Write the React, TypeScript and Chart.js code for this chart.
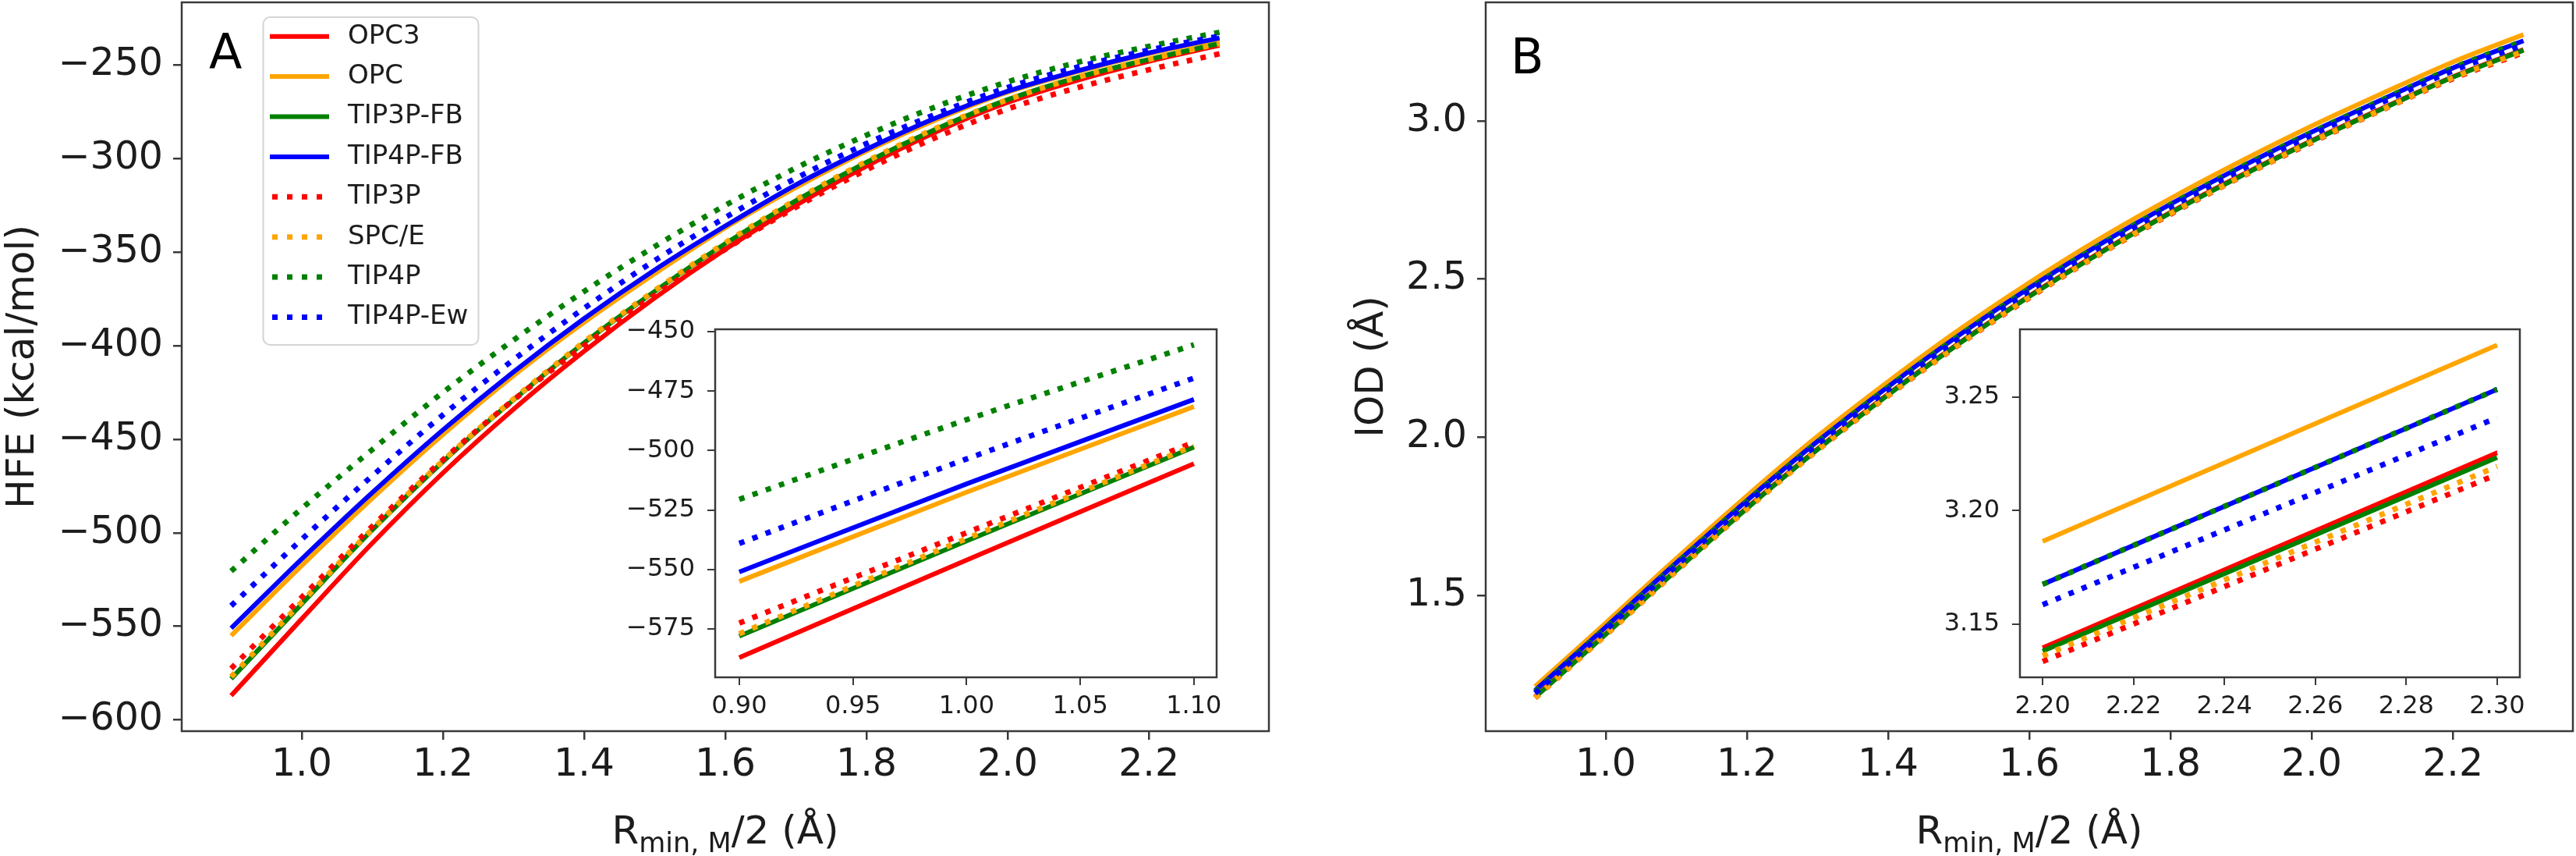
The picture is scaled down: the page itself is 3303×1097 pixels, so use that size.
import React, { useEffect, useRef } from "react";
import { Chart, registerables } from "chart.js";

Chart.register(...registerables);

// ---------------- data ----------------
const R_HALF = [0.9, 1.0, 1.1, 1.2, 1.3, 1.4, 1.5, 1.6, 1.7, 1.8, 1.9, 2.0, 2.1, 2.2, 2.3];

const MODEL_NAMES = ["OPC3", "OPC", "TIP3P-FB", "TIP4P-FB", "TIP3P", "SPC/E", "TIP4P", "TIP4P-Ew"];
const MODEL_COLORS = ["#ff0000", "#ffa500", "#008000", "#0000ff", "#ff0000", "#ffa500", "#008000", "#0000ff"];
const MODEL_DOTTED = [false, false, false, false, true, true, true, true];

// Hydration free energy (kcal/mol)
const HFE_OPC3 = [-587, -546, -505.5, -468, -434, -403, -374.5, -348.5, -325, -304, -285.5, -270, -258, -248, -239.5];
const HFE_OPC = [-555, -517.5, -481.5, -447.5, -416, -387.5, -361.5, -337, -315.5, -296, -279, -264.5, -253.5, -244, -236];
const HFE_TIP3PFB = [-578, -538, -498.5, -462, -429, -398.5, -371, -345.5, -322.5, -302, -284, -268.5, -256.5, -247, -238.5];
const HFE_TIP4PFB = [-551, -514, -478.5, -445, -414, -385.5, -359.5, -336, -314, -295, -278, -264, -253, -243.5, -235.5];
const HFE_TIP3P = [-572.5, -534.5, -496.5, -461, -429, -400, -373, -348.5, -326, -306, -288.5, -273.5, -262, -252.5, -244];
const HFE_SPCE = [-577, -537, -498, -461.5, -428.5, -398, -370.5, -345, -322, -301.5, -283.5, -268.5, -256.5, -247, -238.5];
const HFE_TIP4P = [-520.5, -487, -455.5, -425, -397, -371, -347, -325, -305, -287.5, -272, -259, -248.5, -240, -232.5];
const HFE_TIP4PEW = [-539, -503.5, -469.5, -437, -407.5, -380, -354.5, -331.5, -310.5, -292, -276, -262, -251, -242, -234.5];

// Ion-oxygen distance (Å)
const IOD_OPC3 = [1.18, 1.379, 1.581, 1.777, 1.963, 2.136, 2.297, 2.447, 2.584, 2.711, 2.828, 2.938, 3.04, 3.1395, 3.2255];
const IOD_OPC = [1.212, 1.413, 1.617, 1.815, 2.003, 2.176, 2.339, 2.489, 2.628, 2.755, 2.873, 2.984, 3.087, 3.1865, 3.273];
const IOD_TIP3PFB = [1.178, 1.377, 1.579, 1.775, 1.961, 2.134, 2.295, 2.445, 2.582, 2.709, 2.826, 2.936, 3.038, 3.138, 3.2235];
const IOD_TIP4PFB = [1.2, 1.4, 1.603, 1.8, 1.987, 2.16, 2.322, 2.472, 2.61, 2.737, 2.855, 2.965, 3.068, 3.1675, 3.2535];
const IOD_TIP3P = [1.176, 1.375, 1.577, 1.773, 1.959, 2.131, 2.292, 2.441, 2.579, 2.705, 2.823, 2.932, 3.035, 3.1335, 3.216];
const IOD_SPCE = [1.176, 1.375, 1.577, 1.773, 1.959, 2.132, 2.293, 2.443, 2.58, 2.707, 2.824, 2.934, 3.036, 3.136, 3.2195];
const IOD_TIP4P = [1.196, 1.396, 1.6, 1.797, 1.984, 2.158, 2.32, 2.47, 2.608, 2.736, 2.854, 2.964, 3.067, 3.1675, 3.2535];
const IOD_TIP4PEW = [1.191, 1.391, 1.594, 1.791, 1.978, 2.151, 2.313, 2.463, 2.601, 2.728, 2.846, 2.956, 3.059, 3.1585, 3.241];

const HFE_VALUES = [HFE_OPC3, HFE_OPC, HFE_TIP3PFB, HFE_TIP4PFB, HFE_TIP3P, HFE_SPCE, HFE_TIP4P, HFE_TIP4PEW];
const IOD_VALUES = [IOD_OPC3, IOD_OPC, IOD_TIP3PFB, IOD_TIP4PFB, IOD_TIP3P, IOD_SPCE, IOD_TIP4P, IOD_TIP4PEW];

// ticks
const HFE_X_TICKS = [1.0, 1.2, 1.4, 1.6, 1.8, 2.0, 2.2];
const HFE_Y_TICKS = [-600, -550, -500, -450, -400, -350, -300, -250];
const HFE_INSET_X_TICKS = [0.9, 0.95, 1.0, 1.05, 1.1];
const HFE_INSET_Y_TICKS = [-575, -550, -525, -500, -475, -450];
const IOD_X_TICKS = [1.0, 1.2, 1.4, 1.6, 1.8, 2.0, 2.2];
const IOD_Y_TICKS = [1.5, 2.0, 2.5, 3.0];
const IOD_INSET_X_TICKS = [2.2, 2.22, 2.24, 2.26, 2.28, 2.3];
const IOD_INSET_Y_TICKS = [3.15, 3.2, 3.25];

// text
const HFE_Y_TITLE = "HFE (kcal/mol)";
const IOD_Y_TITLE = "IOD (Å)";
const X_TITLE_MAIN = "R";
const X_TITLE_SUB = "min, M";
const X_TITLE_TAIL = "/2 (Å)";

// ---------------- style ----------------
const FONT = '"DejaVu Sans", "Liberation Sans", sans-serif';
const INK = "#1c1c1c";
const SPINE = "#3a3a3a";
const SOLID_WIDTH = 6;
const DOT_WIDTH = 7;
const DOT_DASH = [7, 11];

type Box = { left: number; top: number; width: number; height: number };
type Area = { left: number; top: number; right: number; bottom: number };
type PanelSpec = {
  box: Box;
  area: Area;
  xRange: [number, number];
  yRange: [number, number];
  xTicks: number[];
  yTicks: number[];
  xDec: number;
  yDec: number;
  tickSize: number;
  tickLen: number;
  tickWidth: number;
  xPad: number;
  yPad: number;
  from: number;
  to: number;
  values: number[][];
  inset: boolean;
  yTitle?: string;
  yTitlePad?: number;
  xTitle?: boolean;
  letter?: { text: string; x: number; y: number };
  legend?: boolean;
};

const HFE_MAIN: PanelSpec = {
  box: { left: 0, top: 0, width: 1650, height: 1097 },
  area: { left: 233, top: 3, right: 1627, bottom: 937 },
  xRange: [0.83, 2.37],
  yRange: [-606, -216.5],
  xTicks: HFE_X_TICKS,
  yTicks: HFE_Y_TICKS,
  xDec: 1,
  yDec: 0,
  tickSize: 49,
  tickLen: 11,
  tickWidth: 2.5,
  xPad: 4,
  yPad: 13,
  from: 0,
  to: 15,
  values: HFE_VALUES,
  inset: false,
  yTitle: HFE_Y_TITLE,
  yTitlePad: 0,
  xTitle: true,
  letter: { text: "A", x: 268, y: 88 },
  legend: true,
};

const HFE_INSET: PanelSpec = {
  box: { left: 780, top: 380, width: 800, height: 580 },
  area: { left: 137, top: 42, right: 780, bottom: 488 },
  xRange: [0.8894, 1.11],
  yRange: [-595.3, -449],
  xTicks: HFE_INSET_X_TICKS,
  yTicks: HFE_INSET_Y_TICKS,
  xDec: 2,
  yDec: 0,
  tickSize: 32,
  tickLen: 10,
  tickWidth: 2,
  xPad: 8,
  yPad: 16,
  from: 0,
  to: 3,
  values: HFE_VALUES,
  inset: true,
};

const IOD_MAIN: PanelSpec = {
  box: { left: 1650, top: 0, width: 1653, height: 1097 },
  area: { left: 255, top: 3, right: 1649, bottom: 937 },
  xRange: [0.83, 2.37],
  yRange: [1.071, 3.375],
  xTicks: IOD_X_TICKS,
  yTicks: IOD_Y_TICKS,
  xDec: 1,
  yDec: 1,
  tickSize: 49,
  tickLen: 11,
  tickWidth: 2.5,
  xPad: 4,
  yPad: 13,
  from: 0,
  to: 15,
  values: IOD_VALUES,
  inset: false,
  yTitle: IOD_Y_TITLE,
  yTitlePad: 80,
  xTitle: true,
  letter: { text: "B", x: 287, y: 94 },
};

const IOD_INSET: PanelSpec = {
  box: { left: 2450, top: 380, width: 800, height: 580 },
  area: { left: 140, top: 42, right: 781, bottom: 488 },
  xRange: [2.195, 2.305],
  yRange: [3.1265, 3.28],
  xTicks: IOD_INSET_X_TICKS,
  yTicks: IOD_INSET_Y_TICKS,
  xDec: 2,
  yDec: 2,
  tickSize: 32,
  tickLen: 10,
  tickWidth: 2,
  xPad: 8,
  yPad: 16,
  from: 13,
  to: 15,
  values: IOD_VALUES,
  inset: true,
};

const fmt = (v: number, d: number) => {
  const s = Math.abs(v).toFixed(d);
  return v < 0 ? "\u2212" + s : s;
};

function drawXTitle(ctx: CanvasRenderingContext2D, cx: number, baseline: number) {
  const parts = [
    { text: X_TITLE_MAIN, size: 50, dy: 0 },
    { text: X_TITLE_SUB, size: 35, dy: 11 },
    { text: X_TITLE_TAIL, size: 50, dy: 0 },
  ];
  let total = 0;
  const widths = parts.map((p) => {
    ctx.font = `${p.size}px ${FONT}`;
    const w = ctx.measureText(p.text).width;
    total += w;
    return w;
  });
  let x = cx - total / 2;
  ctx.fillStyle = INK;
  ctx.textAlign = "left";
  ctx.textBaseline = "alphabetic";
  parts.forEach((p, i) => {
    ctx.font = `${p.size}px ${FONT}`;
    ctx.fillText(p.text, x, baseline + p.dy);
    x += widths[i];
  });
}

function drawLegend(chart: any) {
  const ctx: CanvasRenderingContext2D = chart.ctx;
  const ds = chart.data.datasets;
  ctx.save();
  ctx.beginPath();
  const bx = 337.5, by = 22, bw = 276, bh = 420;
  if ((ctx as any).roundRect) (ctx as any).roundRect(bx, by, bw, bh, 9);
  else ctx.rect(bx, by, bw, bh);
  ctx.fillStyle = "rgba(255,255,255,0.8)";
  ctx.fill();
  ctx.strokeStyle = "#d4d4d4";
  ctx.lineWidth = 2;
  ctx.stroke();
  ds.forEach((d: any, i: number) => {
    const y = 46.7 + 51.4 * i;
    const dotted = d.borderDash && d.borderDash.length > 0;
    ctx.beginPath();
    ctx.strokeStyle = d.borderColor;
    ctx.lineWidth = d.borderWidth;
    ctx.lineCap = "butt";
    if (dotted) {
      ctx.setLineDash([7, 12]);
      ctx.moveTo(349, y);
    } else {
      ctx.setLineDash([]);
      ctx.moveTo(346, y);
    }
    ctx.lineTo(422, y);
    ctx.stroke();
    ctx.setLineDash([]);
    ctx.fillStyle = INK;
    ctx.font = `34px ${FONT}`;
    ctx.textAlign = "left";
    ctx.textBaseline = "middle";
    ctx.fillText(d.label, 446, y);
  });
  ctx.restore();
}

function decorPlugin(s: PanelSpec) {
  return {
    id: "decor",
    beforeDraw(chart: any) {
      const { ctx, chartArea: a } = chart;
      ctx.save();
      ctx.fillStyle = "#ffffff";
      if (s.inset) ctx.fillRect(a.left, a.top, a.right - a.left, a.bottom - a.top);
      else ctx.fillRect(0, 0, chart.width, chart.height);
      ctx.restore();
    },
    afterDatasetsDraw(chart: any) {
      const { ctx, chartArea: a } = chart;
      ctx.save();
      ctx.strokeStyle = SPINE;
      ctx.lineWidth = 2.5;
      ctx.setLineDash([]);
      ctx.strokeRect(a.left, a.top, a.right - a.left, a.bottom - a.top);
      ctx.restore();
    },
    afterDraw(chart: any) {
      const { ctx, chartArea: a } = chart;
      ctx.save();
      if (s.letter) {
        ctx.fillStyle = "#000000";
        ctx.font = `62px ${FONT}`;
        ctx.textAlign = "left";
        ctx.textBaseline = "alphabetic";
        ctx.fillText(s.letter.text, s.letter.x, s.letter.y);
      }
      if (s.xTitle) drawXTitle(ctx, (a.left + a.right) / 2, 1081);
      ctx.restore();
      if (s.legend) drawLegend(chart);
    },
  };
}

function buildConfig(s: PanelSpec): any {
  const xs = R_HALF.slice(s.from, s.to);
  const datasets = MODEL_NAMES.map((name, i) => {
    const dotted = MODEL_DOTTED[i];
    return {
      label: name,
      data: xs.map((x, j) => ({ x, y: s.values[i][s.from + j] })),
      borderColor: MODEL_COLORS[i],
      backgroundColor: MODEL_COLORS[i],
      borderWidth: dotted ? DOT_WIDTH : SOLID_WIDTH,
      borderDash: dotted ? DOT_DASH : [],
      borderCapStyle: "butt",
      pointRadius: 0,
      pointHoverRadius: 0,
      pointHitRadius: 0,
      fill: false,
      cubicInterpolationMode: "monotone",
      order: MODEL_NAMES.length - i,
    };
  });
  const a = s.area;
  const zeroPad = (sc: any) => {
    sc.paddingLeft = 0;
    sc.paddingRight = 0;
    sc.paddingTop = 0;
    sc.paddingBottom = 0;
  };
  const gridOpts = {
    display: true,
    drawOnChartArea: false,
    drawTicks: true,
    tickLength: s.tickLen,
    tickWidth: s.tickWidth,
    tickColor: SPINE,
    color: SPINE,
    lineWidth: s.tickWidth,
  };
  return {
    type: "line",
    data: { datasets },
    options: {
      responsive: false,
      maintainAspectRatio: false,
      animation: false,
      devicePixelRatio: 1,
      events: [],
      layout: { padding: { top: a.top, right: s.box.width - a.right, left: 0, bottom: 0 } },
      plugins: { legend: { display: false }, tooltip: { enabled: false }, title: { display: false } },
      scales: {
        x: {
          type: "linear",
          position: "bottom",
          min: s.xRange[0],
          max: s.xRange[1],
          afterBuildTicks: (sc: any) => {
            sc.ticks = s.xTicks.map((v) => ({ value: v }));
          },
          afterFit: (sc: any) => {
            sc.height = s.box.height - a.bottom;
            zeroPad(sc);
          },
          ticks: {
            autoSkip: false,
            maxRotation: 0,
            minRotation: 0,
            padding: s.xPad,
            color: INK,
            font: { family: FONT, size: s.tickSize },
            callback: (v: any) => fmt(Number(v), s.xDec),
          },
          grid: gridOpts,
          border: { display: false },
          title: { display: false },
        },
        y: {
          type: "linear",
          position: "left",
          min: s.yRange[0],
          max: s.yRange[1],
          afterBuildTicks: (sc: any) => {
            sc.ticks = s.yTicks.map((v) => ({ value: v }));
          },
          afterFit: (sc: any) => {
            sc.width = a.left;
            zeroPad(sc);
          },
          ticks: {
            autoSkip: false,
            padding: s.yPad,
            color: INK,
            font: { family: FONT, size: s.tickSize },
            callback: (v: any) => fmt(Number(v), s.yDec),
          },
          grid: gridOpts,
          border: { display: false },
          title: s.yTitle
            ? {
                display: true,
                text: s.yTitle,
                color: INK,
                font: { family: FONT, size: 50 },
                padding: { top: s.yTitlePad || 0, bottom: 0 },
              }
            : { display: false },
        },
      },
    },
    plugins: [decorPlugin(s)],
  };
}

function ChartPanel({ spec }: { spec: PanelSpec }) {
  const ref = useRef<HTMLCanvasElement | null>(null);
  useEffect(() => {
    if (!ref.current) return;
    const chart = new Chart(ref.current, buildConfig(spec));
    return () => chart.destroy();
  }, [spec]);
  return (
    <div
      style={{
        position: "absolute",
        left: spec.box.left,
        top: spec.box.top,
        width: spec.box.width,
        height: spec.box.height,
      }}
    >
      <canvas ref={ref} width={spec.box.width} height={spec.box.height} />
    </div>
  );
}

export default function App() {
  return (
    <div
      style={{
        position: "absolute",
        left: 0,
        top: 0,
        width: 3303,
        height: 1097,
        background: "#ffffff",
        overflow: "hidden",
      }}
    >
      <ChartPanel spec={HFE_MAIN} />
      <ChartPanel spec={IOD_MAIN} />
      <ChartPanel spec={HFE_INSET} />
      <ChartPanel spec={IOD_INSET} />
    </div>
  );
}
